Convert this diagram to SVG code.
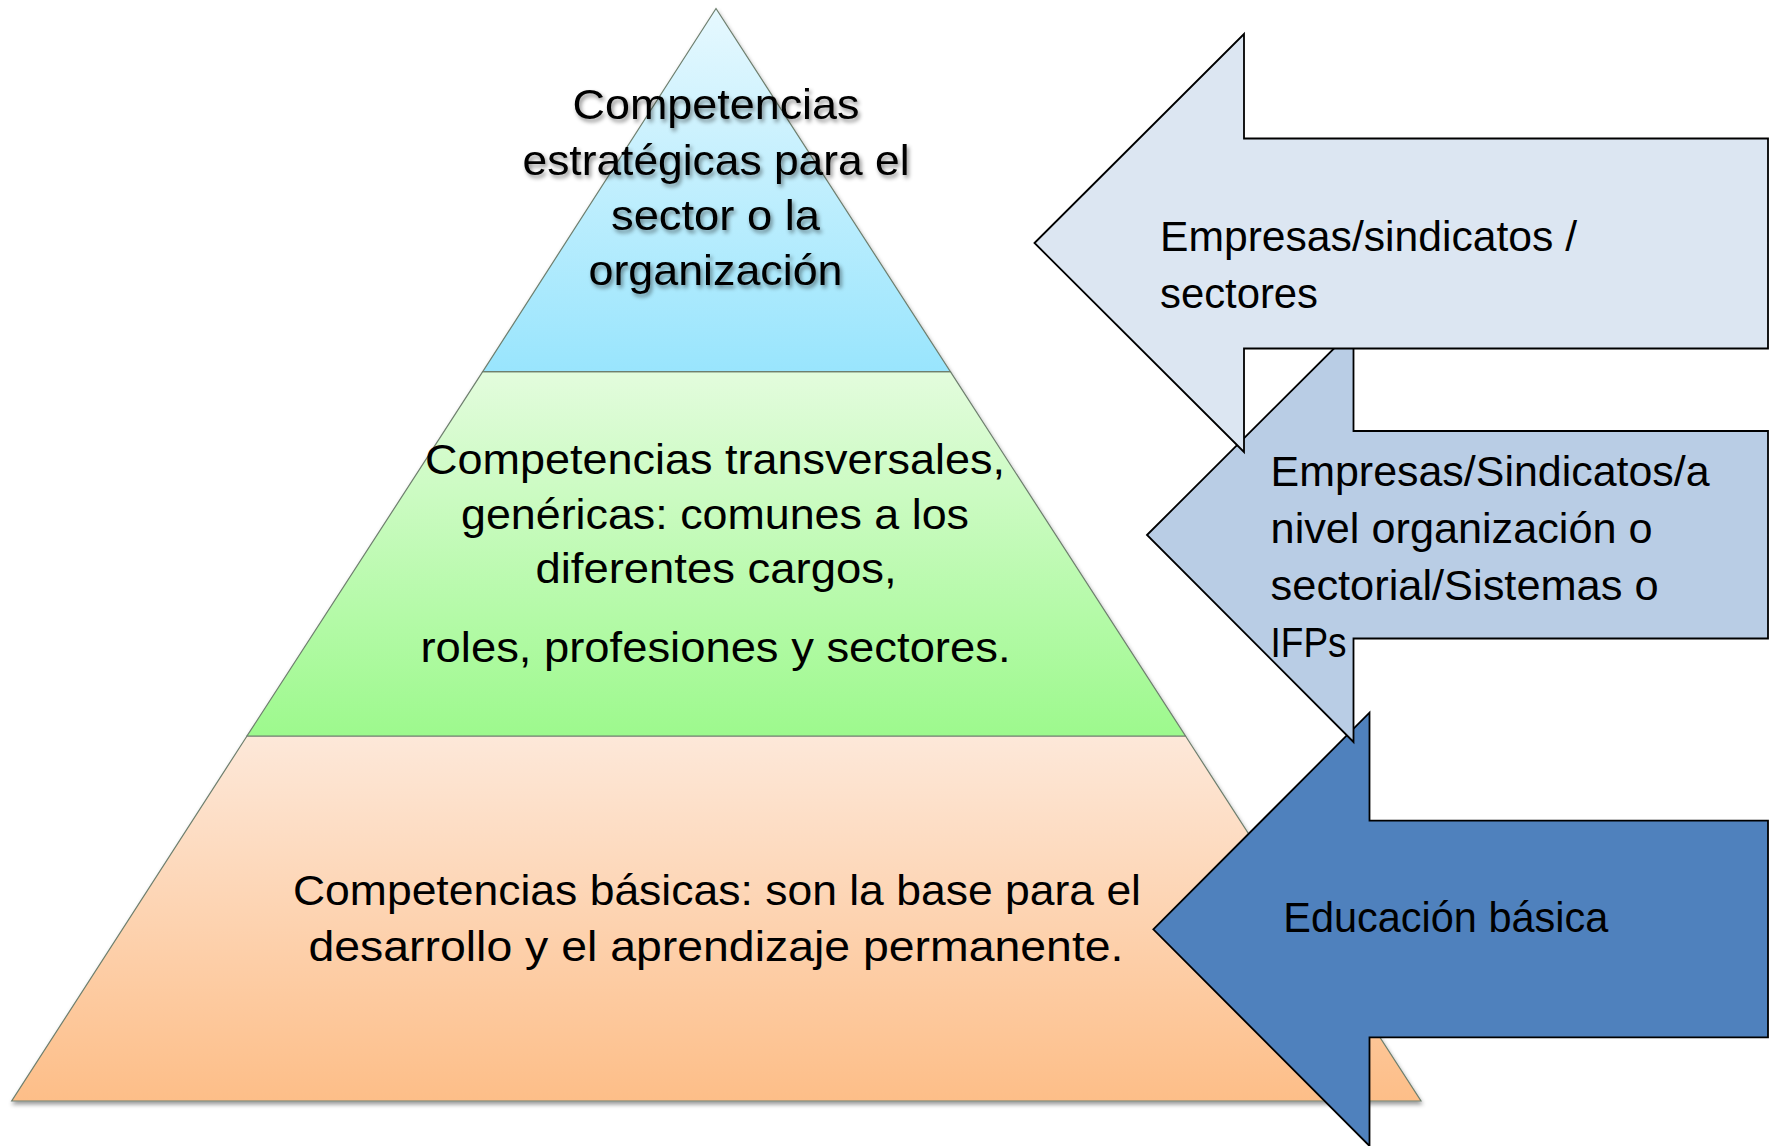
<svg xmlns="http://www.w3.org/2000/svg" width="1769" height="1146" viewBox="0 0 1769 1146">
<defs>
<linearGradient id="gTop" x1="0" y1="0" x2="0" y2="1">
<stop offset="0" stop-color="#E6F8FE"/>
<stop offset="1" stop-color="#99E5FD"/>
</linearGradient>
<linearGradient id="gMid" x1="0" y1="0" x2="0" y2="1">
<stop offset="0" stop-color="#E3FCDD"/>
<stop offset="1" stop-color="#9DF98D"/>
</linearGradient>
<linearGradient id="gBot" x1="0" y1="0" x2="0" y2="1">
<stop offset="0" stop-color="#FDE8D9"/>
<stop offset="1" stop-color="#FDBE88"/>
</linearGradient>
<filter id="shadow" x="-5%" y="-5%" width="110%" height="115%">
<feDropShadow dx="1" dy="3" stdDeviation="2" flood-color="#000" flood-opacity="0.4"/>
</filter>
<filter id="tshadow" x="-10%" y="-20%" width="120%" height="150%">
<feDropShadow dx="2" dy="3" stdDeviation="2" flood-color="#000" flood-opacity="0.45"/>
</filter>
</defs>
<style>
.lvl{stroke:#6E7F6E;stroke-width:1.2;}
.arrow{stroke:#000;stroke-width:1.8;stroke-linejoin:miter;}
.t{font-family:"Liberation Sans",Arial,sans-serif;font-size:43px;fill:#000;}
.c{text-anchor:middle;}
</style>
<rect width="1769" height="1146" fill="#FFFFFF"/>
<g id="pyramid" filter="url(#shadow)">
<g id="level-base">
<polygon class="lvl" points="247,736 1185.5,736 1421,1101 11.7,1101" fill="url(#gBot)"/>
</g>
<g id="level-middle">
<polygon class="lvl" points="482.7,371.7 950.4,371.7 1185.5,736 247,736" fill="url(#gMid)"/>
</g>
<g id="level-top">
<polygon class="lvl" points="716,8.5 950.4,371.7 482.7,371.7" fill="url(#gTop)"/>
</g>
</g>
<g id="pyramid-text">
<g id="text-top" filter="url(#tshadow)">
<text class="t c" x="716" y="119" textLength="287" lengthAdjust="spacingAndGlyphs">Competencias</text>
<text class="t c" x="716" y="175" textLength="387" lengthAdjust="spacingAndGlyphs">estratégicas para el</text>
<text class="t c" x="715.5" y="230" textLength="209" lengthAdjust="spacingAndGlyphs">sector o la</text>
<text class="t c" x="715.5" y="285" textLength="254" lengthAdjust="spacingAndGlyphs">organización</text>
</g>
<g id="text-middle">
<text class="t c" x="715" y="474" textLength="580" lengthAdjust="spacingAndGlyphs">Competencias transversales,</text>
<text class="t c" x="715" y="528.5" textLength="508" lengthAdjust="spacingAndGlyphs">genéricas: comunes a los</text>
<text class="t c" x="716" y="583" textLength="361" lengthAdjust="spacingAndGlyphs">diferentes cargos,</text>
<text class="t c" x="715.5" y="661.5" textLength="590" lengthAdjust="spacingAndGlyphs">roles, profesiones y sectores.</text>
</g>
<g id="text-base">
<text class="t c" x="717" y="905" textLength="848" lengthAdjust="spacingAndGlyphs">Competencias básicas: son la base para el</text>
<text class="t c" x="716" y="960.5" textLength="815" lengthAdjust="spacingAndGlyphs">desarrollo y el aprendizaje permanente.</text>
</g>
</g>
<g id="connectors">
<g id="arrow-educacion">
<polygon class="arrow" fill="#4F81BD" points="1153.3,929.3 1369.5,712.7 1369.5,820.7 1768,820.7 1768,1037.3 1369.5,1037.3 1369.5,1146"/>
<text class="t" x="1283.3" y="932.3" textLength="325" lengthAdjust="spacingAndGlyphs">Educación básica</text>
</g>
<g id="arrow-organizacion">
<polygon class="arrow" fill="#B9CDE5" points="1147,535 1353.5,329 1353.5,431 1768,431 1768,638.5 1353.5,638.5 1353.5,742"/>
<text class="t" x="1270.6" y="486" textLength="439" lengthAdjust="spacingAndGlyphs">Empresas/Sindicatos/a</text>
<text class="t" x="1270.6" y="543" textLength="382" lengthAdjust="spacingAndGlyphs">nivel organización o</text>
<text class="t" x="1270.6" y="600" textLength="388" lengthAdjust="spacingAndGlyphs">sectorial/Sistemas o</text>
<text class="t" x="1270.6" y="657" textLength="76" lengthAdjust="spacingAndGlyphs">IFPs</text>
</g>
<g id="arrow-empresas">
<polygon class="arrow" fill="#DCE6F2" points="1034.5,243 1244,34 1244,138.5 1768,138.5 1768,348.5 1244,348.5 1244,452"/>
<text class="t" x="1160" y="250.7" textLength="417" lengthAdjust="spacingAndGlyphs">Empresas/sindicatos /</text>
<text class="t" x="1160" y="308.3" textLength="158" lengthAdjust="spacingAndGlyphs">sectores</text>
</g>
</g>
</svg>
